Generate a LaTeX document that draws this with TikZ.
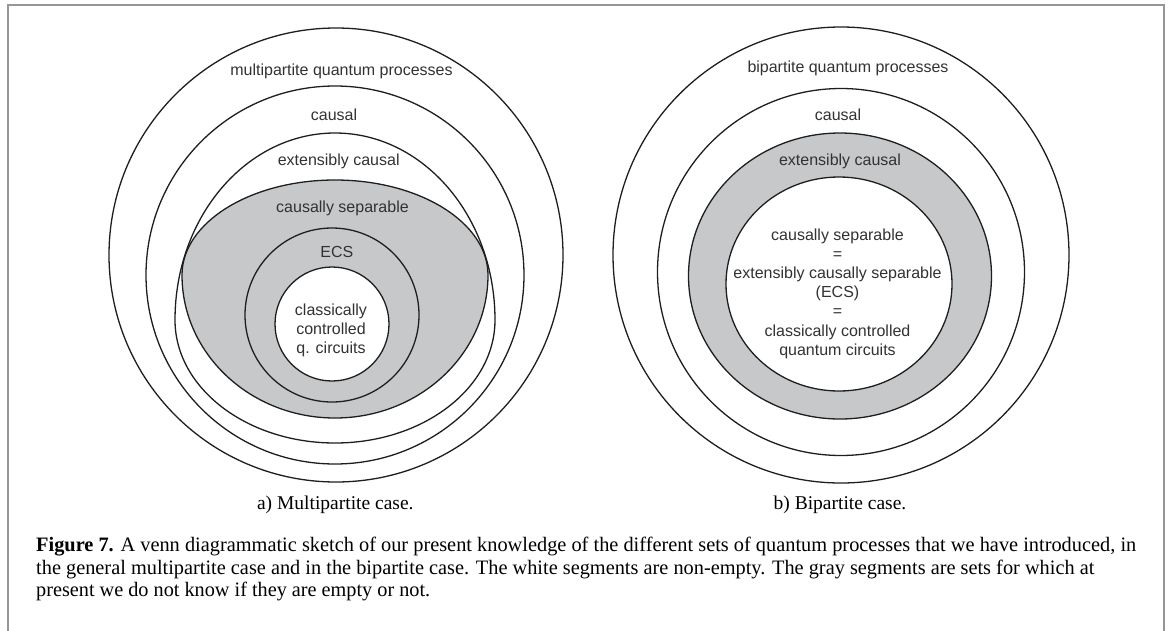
\documentclass[tikz,border=0pt]{standalone}
\usepackage{graphicx}
\usepackage{fontspec}
\setmainfont{Liberation Serif}
\setsansfont{Liberation Sans}
\definecolor{linecol}{RGB}{30,30,30}
\definecolor{labcol}{RGB}{50,50,50}
\definecolor{grayfill}{RGB}{199,200,202}
\definecolor{framecol}{RGB}{150,150,150}
\begin{document}
\begin{tikzpicture}[x=1pt,y=-1pt,
  setline/.style={draw=linecol, line width=1.3pt},
  lab/.style={font=\sffamily\fontsize{16}{19.2}\selectfont, text=labcol, inner sep=0pt, align=center},
  subcap/.style={font=\fontsize{19.5}{22}\selectfont, inner sep=0pt, anchor=base},
  capline/.style={font=\fontsize{20.5}{22.5}\selectfont, inner sep=0pt, anchor=base west}]
\useasboundingbox (0,0) rectangle (1171,630);
% frame
\draw[framecol, line width=2pt] (8.3,640) -- (8.3,5) -- (1164.3,5) -- (1164.3,640);

% ---------- left diagram ----------
\draw[setline] (336,255) circle[radius=227pt];
\draw[setline] (335,275) circle[radius=189pt];
% causally separable (gray, egg shaped)
\fill[grayfill] (182,275) arc[start angle=180, end angle=0, x radius=153pt, y radius=95pt]
                arc[start angle=0, end angle=-180, x radius=153pt, y radius=143pt] -- cycle;
\fill[white] (332,324) circle[radius=57pt];
% extensibly causal
\draw[setline] (175,320) arc[start angle=180, end angle=0, x radius=160pt, y radius=187pt]
               arc[start angle=0, end angle=-180, x radius=160pt, y radius=123pt] -- cycle;
\draw[setline] (182,275) arc[start angle=180, end angle=0, x radius=153pt, y radius=95pt]
               arc[start angle=0, end angle=-180, x radius=153pt, y radius=143pt] -- cycle;
\draw[setline] (332,315) circle[radius=87pt];
\draw[setline] (332,324) circle[radius=57pt];

\node[lab] (lmulti) at (341.5,71) {multipartite quantum processes};
\node[lab] (lcausal) at (334,115) {causal};
\node[lab] (lext) at (338.7,161.7) {extensibly causal};
\node[lab] (lsep) at (342.5,208) {causally separable};
\node[lab] (lecs) at (336.8,251.7) {ECS};
\node[lab] (lcc) at (331,330.5) {classically\\controlled\\q. circuits};
\node[subcap] (suba) at (335.3,509) {a) Multipartite case.};

% ---------- right diagram ----------
\draw[setline] (841,255) circle[radius=228pt];
\draw[setline] (841,272) circle[radius=183.5pt];
\fill[grayfill] (840,276) ellipse[x radius=151.5pt, y radius=143pt];
\fill[white] (839,284) ellipse[x radius=113pt, y radius=107pt];
\draw[setline] (840,276) ellipse[x radius=151.5pt, y radius=143pt];
\draw[setline] (839,284) ellipse[x radius=113pt, y radius=107pt];

\node[lab] (rbi) at (848,68.3) {bipartite quantum processes};
\node[lab] (rcausal) at (838,114.3) {causal};
\node[lab] (rext) at (840,161.7) {extensibly causal};
\node[lab] (rinner) at (837.5,293.5) {causally separable\\=\\extensibly causally separable\\(ECS)\\=\\classically controlled\\quantum circuits};
\node[subcap] (subb) at (840,509) {b) Bipartite case.};

% ---------- caption ----------
\node[capline] (cap1) at (36,551.5) {\resizebox{1100pt}{\height}{\textbf{Figure 7.} A venn diagrammatic sketch of our present knowledge of the different sets of quantum processes that we have introduced, in}};
\node[capline] (cap2) at (36,574) {\resizebox{1058pt}{\height}{the general multipartite case and in the bipartite case. The white segments are non-empty. The gray segments are sets for which at}};
\node[capline] (cap3) at (36,596.5) {\resizebox{394pt}{\height}{present we do not know if they are empty or not.}};
\end{tikzpicture}
\end{document}
